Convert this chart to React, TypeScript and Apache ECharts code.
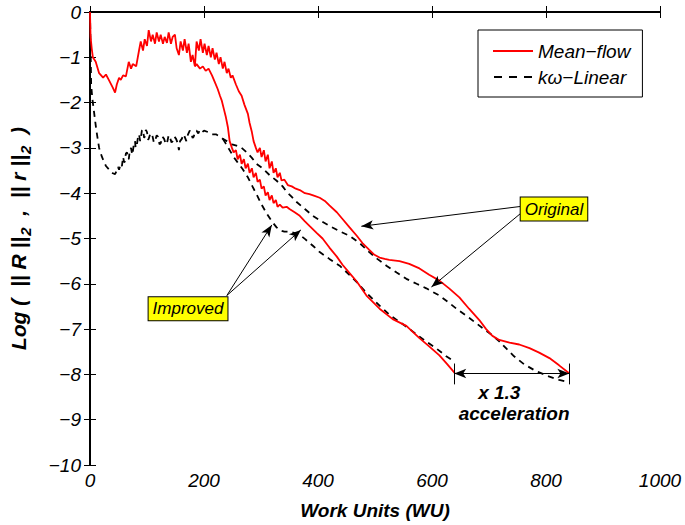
import React, { useEffect, useRef } from "react";
import * as echarts from "echarts";

// ---- data (Work Units, log residual) ----
const meanFlowCommon: number[][] = [
  [0, 0], [1, -0.55], [3, -0.8], [5, -1.0], [10, -1.1], [16, -1.35], [23, -1.45], [28, -1.38],
  [33, -1.5], [40, -1.67], [44, -1.78], [47, -1.6], [51, -1.45], [54, -1.5], [58, -1.4], [63, -1.42],
  [68, -1.1], [72, -1.25], [75, -1.15], [81, -1.2], [86, -0.85], [89, -0.65], [93, -0.85], [96, -0.6],
  [100, -0.75], [103, -0.4], [107, -0.65], [110, -0.5], [114, -0.7], [117, -0.45], [121, -0.65],
  [124, -0.5], [128, -0.7], [131, -0.55], [135, -0.68], [138, -0.45], [142, -0.7], [145, -0.55],
  [149, -0.5], [152, -0.8], [156, -0.95], [159, -0.65], [163, -0.85], [166, -0.6], [170, -0.9],
  [173, -0.7], [177, -1.1], [180, -0.95], [184, -1.2],
];
const meanFlowOriginal: number[][] = [
  [187, -0.65], [191, -0.85], [194, -0.6], [198, -0.9], [201, -0.7], [205, -0.95], [208, -0.75],
  [212, -1.0], [215, -0.8], [219, -1.05], [222, -0.9], [226, -1.15], [229, -1.0], [233, -1.25],
  [236, -1.1], [240, -1.35], [243, -1.25], [247, -1.45], [250, -1.4], [256, -1.6], [261, -1.75],
  [266, -1.85], [271, -2.05], [277, -2.25], [280, -2.45], [284, -2.65], [287, -2.85], [291, -3.0],
  [294, -3.1], [298, -3.0], [301, -3.2], [305, -3.05], [308, -3.3], [312, -3.15], [315, -3.45],
  [319, -3.3], [322, -3.55], [326, -3.45], [329, -3.65], [333, -3.55], [336, -3.72], [341, -3.7],
  [347, -3.82], [354, -3.85], [361, -3.9], [368, -3.93], [377, -4.0], [385, -4.02], [394, -4.06],
  [403, -4.1], [412, -4.17], [420, -4.27], [433, -4.42], [443, -4.57], [455, -4.75], [468, -4.94],
  [478, -5.1], [490, -5.25], [499, -5.36], [508, -5.42], [517, -5.45], [525, -5.47], [543, -5.5],
  [560, -5.56], [578, -5.66], [595, -5.8], [613, -5.93], [630, -6.1], [648, -6.3], [665, -6.55],
  [683, -6.8], [695, -7.0], [706, -7.15], [718, -7.24], [736, -7.3], [753, -7.34], [771, -7.42],
  [788, -7.52], [806, -7.64], [823, -7.8], [840, -7.97],
];
const meanFlowImproved: number[][] = [
  [187, -1.15], [193, -1.25], [198, -1.2], [203, -1.3], [208, -1.25], [214, -1.4], [219, -1.55],
  [224, -1.7], [228, -1.85], [231, -1.95], [235, -2.15], [238, -2.3], [242, -2.55], [245, -2.85],
  [249, -3.0], [252, -3.1], [256, -3.05], [259, -3.25], [263, -3.15], [266, -3.35], [270, -3.25],
  [273, -3.45], [277, -3.35], [280, -3.55], [284, -3.45], [287, -3.65], [291, -3.55], [294, -3.75],
  [298, -3.7], [301, -3.9], [305, -3.85], [308, -4.05], [312, -3.98], [315, -4.15], [319, -4.05],
  [322, -4.22], [326, -4.15], [329, -4.3], [333, -4.25], [338, -4.32], [345, -4.3], [350, -4.35],
  [359, -4.42], [368, -4.5], [377, -4.62], [385, -4.72], [398, -4.88], [408, -5.0], [420, -5.2],
  [433, -5.4], [443, -5.58], [455, -5.76], [468, -5.95], [485, -6.26], [508, -6.55], [531, -6.78],
  [555, -6.93], [578, -7.2], [595, -7.38], [613, -7.58], [627, -7.78], [640, -7.97],
];
const kwCommon: number[][] = [
  [0, 0], [1, -0.8], [2, -1.6], [4, -1.9], [7, -2.2], [11, -2.6], [16, -3.0], [21, -3.2], [28, -3.4],
  [35, -3.5], [40, -3.56], [44, -3.58], [47, -3.5], [49, -3.42], [51, -3.48], [54, -3.35], [56, -3.4],
  [58, -3.2], [60, -3.32], [61, -3.3], [63, -3.12], [65, -3.1], [66, -3.22], [68, -3.25], [70, -3.05],
  [72, -3.0], [74, -3.15], [75, -3.1], [77, -2.9], [79, -2.85], [80, -3.0], [82, -2.95], [84, -2.78],
  [86, -2.7], [88, -2.85], [89, -2.8], [91, -2.62], [93, -2.6], [95, -2.78], [96, -2.75], [98, -2.6],
  [100, -2.65], [102, -2.82], [103, -2.8], [106, -2.68], [109, -2.7], [112, -2.88], [114, -2.85],
  [117, -2.72], [119, -2.75], [122, -2.92], [124, -2.9], [127, -2.75], [130, -2.8], [133, -2.92],
  [135, -2.9], [138, -2.72], [140, -2.75], [143, -2.88], [145, -2.85], [148, -2.75], [151, -2.8],
  [154, -2.9], [156, -3.05], [158, -2.85], [161, -2.8], [164, -2.7], [166, -2.75], [169, -2.85],
  [172, -2.7], [175, -2.62], [177, -2.65], [180, -2.78], [182, -2.75], [185, -2.62], [187, -2.62],
  [190, -2.68], [193, -2.6], [197, -2.65], [200, -2.62], [207, -2.65], [214, -2.7], [221, -2.7],
  [228, -2.75], [233, -2.8],
];
const kwOriginal: number[][] = [
  [240, -2.85], [249, -2.92], [257, -2.95], [266, -3.0], [275, -3.1], [284, -3.22], [292, -3.35],
  [303, -3.45], [315, -3.6], [327, -3.72], [338, -3.85], [345, -3.97], [354, -4.08], [363, -4.2],
  [377, -4.35], [391, -4.5], [406, -4.62], [420, -4.72], [438, -4.84], [455, -4.94], [473, -5.1],
  [490, -5.3], [504, -5.45], [520, -5.6], [538, -5.75], [555, -5.89], [573, -6.0], [590, -6.1],
  [613, -6.26], [630, -6.42], [643, -6.55], [665, -6.75], [688, -6.97], [704, -7.12], [718, -7.27],
  [732, -7.45], [744, -7.6], [762, -7.78], [783, -7.93], [806, -8.05], [823, -8.12], [840, -8.17],
];
const kwImproved: number[][] = [
  [238, -2.9], [245, -3.05], [252, -3.2], [259, -3.32], [268, -3.47], [277, -3.65], [285, -3.85],
  [294, -4.07], [301, -4.25], [310, -4.45], [319, -4.62], [327, -4.75], [334, -4.82], [341, -4.85],
  [350, -4.85], [359, -4.88], [368, -4.92], [378, -5.02], [391, -5.16], [403, -5.3], [420, -5.45],
  [438, -5.6], [455, -5.8], [468, -5.96], [485, -6.2], [508, -6.48], [525, -6.68], [543, -6.84],
  [566, -7.05], [587, -7.25], [608, -7.43], [625, -7.6], [639, -7.71],
];

const xTicks = [0, 200, 400, 600, 800, 1000];
const yTicks = [0, -1, -2, -3, -4, -5, -6, -7, -8, -9, -10];
const legendNames = ["Mean\u2212flow", "k\u03C9\u2212Linear"];

// annotation anchors in data space
const originalBox = [814, -4.35];
const originalArrows = [
  [[757, -4.29], [476, -4.73]],
  [[760, -4.4], [599, -6.07]],
];
const improvedBox = [172, -6.55];
const improvedArrows = [
  [[240, -6.26], [319, -4.7]],
  [[240, -6.26], [370, -4.81]],
];
const accelSpan = [[639, -7.98], [841, -7.98]];
const accelTicks = [
  [[639, -7.76], [639, -8.22]],
  [[841, -7.76], [841, -8.22]],
];
const accelText1 = [718, -8.4];
const accelText2 = [744, -8.86];

const FONT = "Liberation Sans, Arial, sans-serif";

export default function App() {
  const ref = useRef<HTMLDivElement>(null);
  useEffect(() => {
    if (!ref.current) return;
    const chart = echarts.init(ref.current, undefined, { renderer: "svg" });
    const minus = (v: number) => (v < 0 ? "\u2212" + Math.abs(v) : String(v));
    const red = "#ff0000";
    const lineSeries = (name: string, data: number[][], color: string, dashed: boolean) => ({
      type: "line",
      name,
      data,
      showSymbol: false,
      symbol: "none",
      lineStyle: { color, width: 1.8, type: dashed ? [6, 5] : "solid" },
      itemStyle: { color },
      silent: true,
      z: dashed ? 3 : 4,
    });
    const arrowLine = (pair: number[][]) => [
      { coord: pair[0], symbol: "none" },
      { coord: pair[1], symbol: "arrow" },
    ];
    const boxLabel = (text: string) => ({
      show: true,
      position: "inside",
      formatter: text,
      backgroundColor: "#ffff00",
      borderColor: "#000",
      borderWidth: 1,
      padding: [3, 4, 3, 4],
      fontStyle: "italic",
      fontSize: 17,
      fontFamily: FONT,
      color: "#000",
    });
    const plainLabel = (text: string) => ({
      show: true,
      position: "inside",
      formatter: text,
      fontStyle: "italic",
      fontWeight: "bold",
      fontSize: 19,
      fontFamily: FONT,
      color: "#000",
    });
    const subStyle = { fontStyle: "italic", fontWeight: "bold", fontSize: 15, fontFamily: FONT, color: "#000", padding: [14, 0, 0, 1] };
    const txtStyle = { fontStyle: "italic", fontWeight: "bold", fontSize: 21, fontFamily: FONT, color: "#000" };
    chart.setOption({
      animation: false,
      grid: { left: 90, right: 25, top: 12, bottom: 58 },
      legend: {
        data: [
          { name: legendNames[0], icon: "path://M0,0h40v2h-40z" },
          { name: legendNames[1], icon: "path://M0,0h8v2h-8zM15,0h8v2h-8zM30,0h8v2h-8z" },
        ],
        orient: "vertical",
        left: 478,
        top: 30,
        padding: [10, 12, 9, 15],
        itemWidth: 40,
        itemHeight: 2,
        itemGap: 4,
        borderColor: "#000",
        borderWidth: 1,
        backgroundColor: "#fff",
        selectedMode: false,
        textStyle: { fontStyle: "italic", fontSize: 19, fontFamily: FONT, color: "#000", lineHeight: 22 },
      },
      xAxis: [
        {
          type: "value",
          min: 0,
          max: 1000,
          interval: 200,
          name: "Work Units (WU)",
          nameLocation: "middle",
          nameGap: 36,
          nameTextStyle: { fontStyle: "italic", fontWeight: "bold", fontSize: 19, fontFamily: FONT, color: "#000" },
          axisLine: { lineStyle: { color: "#000", width: 2 } },
          axisTick: { inside: true, length: 6, lineStyle: { color: "#000", width: 1 } },
          axisLabel: { fontStyle: "italic", fontSize: 19, fontFamily: FONT, color: "#000", margin: 6, formatter: (v: number) => String(v) },
          splitLine: { show: false },
        },
        {
          type: "value",
          position: "top",
          min: 0,
          max: 1000,
          interval: 200,
          axisLine: { lineStyle: { color: "#000", width: 2 } },
          axisTick: { inside: true, length: 6, lineStyle: { color: "#000", width: 1 } },
          axisLabel: { show: false },
          splitLine: { show: false },
        },
      ],
      yAxis: [
        {
          type: "value",
          min: -10,
          max: 0,
          interval: 1,
          name: "{t|Log (  || R ||}{s|2}{t|  ,  || r ||}{s|2}{t|  )}",
          nameLocation: "middle",
          nameGap: 57,
          nameRotate: 90,
          nameTextStyle: { rich: { t: txtStyle, s: subStyle } },
          axisLine: { lineStyle: { color: "#000", width: 2 } },
          axisTick: { inside: true, length: 6, lineStyle: { color: "#000", width: 1 } },
          axisLabel: { fontStyle: "italic", fontSize: 19, fontFamily: FONT, color: "#000", margin: 9, formatter: minus },
          splitLine: { show: false },
        },
        {
          type: "value",
          position: "right",
          min: -10,
          max: 0,
          interval: 1,
          axisLine: { lineStyle: { color: "#000", width: 2 } },
          axisTick: { inside: true, length: 6, lineStyle: { color: "#000", width: 1 } },
          axisLabel: { show: false },
          splitLine: { show: false },
        },
      ],
      series: [
        lineSeries(legendNames[1], kwCommon.concat(kwOriginal), "#000", true),
        lineSeries(legendNames[1], [kwCommon[kwCommon.length - 1]].concat(kwImproved), "#000", true),
        lineSeries(legendNames[0], meanFlowCommon.concat(meanFlowOriginal), red, false),
        lineSeries(legendNames[0], [meanFlowCommon[meanFlowCommon.length - 1]].concat(meanFlowImproved), red, false),
        {
          type: "line",
          name: "annotations",
          data: [],
          silent: true,
          z: 6,
          markLine: {
            silent: true,
            animation: false,
            symbolSize: [7, 12],
            label: { show: false },
            lineStyle: { color: "#000", width: 1, type: "solid" },
            emphasis: { disabled: true },
            data: [
              ...originalArrows.map(arrowLine),
              ...improvedArrows.map(arrowLine),
              [
                { coord: accelSpan[0], symbol: "arrow" },
                { coord: accelSpan[1], symbol: "arrow" },
              ],
              ...accelTicks.map((p) => [
                { coord: p[0], symbol: "none" },
                { coord: p[1], symbol: "none" },
              ]),
            ],
          },
          markPoint: {
            silent: true,
            animation: false,
            symbol: "circle",
            symbolSize: 1,
            itemStyle: { color: "rgba(0,0,0,0)" },
            data: [
              { coord: originalBox, label: boxLabel("Original") },
              { coord: improvedBox, label: boxLabel("Improved") },
              { coord: accelText1, label: plainLabel("x 1.3") },
              { coord: accelText2, label: plainLabel("acceleration") },
            ],
          },
        },
      ],
    });
    return () => chart.dispose();
  }, []);
  return <div ref={ref} style={{ width: 685, height: 525, position: "absolute", left: 0, top: 0 }} />;
}
